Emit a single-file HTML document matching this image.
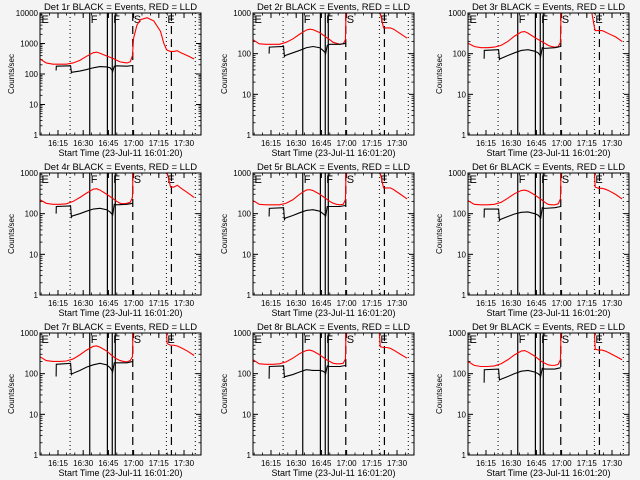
<!DOCTYPE html>
<html><head><meta charset="utf-8">
<style>
html,body{margin:0;padding:0;background:#f4f4f4;}
svg{display:block;}
text{font-family:"Liberation Sans",sans-serif;fill:#000;}
</style></head>
<body>
<svg id="chart" width="640" height="480" viewBox="0 0 640 480" xmlns="http://www.w3.org/2000/svg"></svg>
<script>
// ---- data ----
const panelTitles = ["Det 1r","Det 2r","Det 3r","Det 4r","Det 5r","Det 6r","Det 7r","Det 8r","Det 9r"];
const yMaxDecade = [4,3,3,3,3,3,3,3,3];
const xTickMinutes = [15,30,45,60,75,90];
const xTickLabels = ["16:15","16:30","16:45","17:00","17:15","17:30"];
const dottedLines = [22.2,79.5,96.7];
const solidLines = [33.9,44.4,47.3,49.1];
const dashedLines = [59.5,82.5];
const markerLabels = ["E","F","F","S","E"];
const markerMinutes = [4.6,33.9,47.3,59.5,79.5];
const redTimes = [4.3,8,12,16,20,24,28,32,36,38,40,44,48,50,52,54,56,58,59.3,60,62,64,68,72,76,78,79.5,80,82,84,86,88,92,96];
const red1 = [310,230,210,210,210,230,280,380,500,520,480,390,320,280,250,240,230,250,400,1500,4000,6000,7000,5500,2500,1000,650,600,550,550,580,500,400,310];
const red2 = [220,175,170,170,170,190,230,300,380,400,390,330,250,220,190,180,170,175,220,5000,5000,5000,5000,5000,5000,5000,5000,1000,430,430,430,400,310,240];
const red3 = [180,150,140,140,145,160,200,270,340,350,320,250,200,180,160,150,145,150,190,5000,5000,5000,5000,5000,5000,1000,450,370,370,370,340,310,260,200];
const red4 = [220,180,170,170,175,200,250,320,400,410,380,300,230,200,180,175,180,190,250,5000,5000,5000,5000,5000,5000,5000,5000,1000,450,450,500,430,330,250];
const red5 = [210,170,165,165,165,180,220,300,380,390,370,300,230,200,180,170,165,170,220,5000,5000,5000,5000,5000,5000,5000,5000,1000,430,430,430,390,300,230];
const red6 = [210,170,165,165,170,190,240,310,370,380,360,290,220,190,170,165,165,175,230,5000,5000,5000,5000,5000,5000,5000,1000,450,420,420,400,370,300,230];
const red7 = [260,210,200,200,205,230,290,380,470,480,450,360,260,230,210,200,195,210,260,5000,5000,5000,5000,5000,5000,5000,1000,550,500,500,480,440,360,280];
const red8 = [220,175,170,170,175,195,240,310,370,380,360,290,220,200,180,175,175,180,230,5000,5000,5000,5000,5000,5000,5000,1000,460,440,440,420,380,300,240];
const red9 = [200,160,150,150,155,175,220,290,360,370,340,270,200,180,165,160,160,170,220,5000,5000,5000,5000,5000,5000,5000,1000,400,380,380,360,330,270,220];
const blackTimes = [13.9,14,22.5,23,23.5,28,32,36,40,44,46,47.3,47.5,48.5,50,56,59.5];
const black1 = [130,180,185,110,115,125,140,160,175,170,160,130,120,180,185,180,190];
const black2 = [100,145,150,85,90,105,120,140,150,140,120,105,100,160,170,170,180];
const black3 = [75,120,125,72,75,90,105,120,125,115,105,90,85,140,135,140,150];
const black4 = [100,150,155,82,88,100,115,130,135,125,110,95,90,170,165,170,180];
const black5 = [85,135,140,72,78,90,105,120,125,115,100,90,85,150,150,150,160];
const black6 = [80,130,130,68,72,85,98,108,110,100,92,80,75,140,135,140,150];
const black7 = [85,170,180,95,100,120,145,165,180,165,140,115,110,185,185,185,200];
const black8 = [75,150,155,82,85,95,110,125,120,120,115,105,100,155,150,150,160];
const black9 = [60,125,130,70,72,85,100,115,120,110,100,90,85,135,130,130,140];
const redSeries = [red1,red2,red3,red4,red5,red6,red7,red8,red9];
const blackSeries = [black1,black2,black3,black4,black5,black6,black7,black8,black9];

// ---- drawing ----
const NS="http://www.w3.org/2000/svg";
const svg=document.getElementById('chart');
const colLeft=[40,253,468], rowTop=[13,173,333];
const PW=161, PH=122, T0=4.3, T1=100.1;
function mk(tag,attrs,parent){const e=document.createElementNS(NS,tag);for(const k in attrs)e.setAttribute(k,attrs[k]);(parent||svg).appendChild(e);return e;}

const defs=mk('defs',{});
for(let p=0;p<9;p++){
  const L=colLeft[p%3], T=rowTop[Math.floor(p/3)], R=L+PW, B=T+PH;
  const dmax=yMaxDecade[p];
  const xs=t=>L+(t-T0)/(T1-T0)*PW;
  const ys=v=>B-Math.log10(Math.max(v,1e-3))/dmax*PH;
  const g=mk('g',{});
  
  
  const cp=mk('clipPath',{id:'cp'+p},defs);
  mk('rect',{x:L,y:T,width:PW,height:PH},cp);
  const tt=mk('text',{x:(L+R)/2,y:T-3,'text-anchor':'middle','font-size':'9.5'},g);
  tt.textContent=panelTitles[p]+" BLACK = Events, RED = LLD";
  
  
  for(let d=0;d<=dmax;d++){
    const y=ys(Math.pow(10,d));
    mk('line',{x1:L,x2:L+5,y1:y,y2:y,stroke:'#000','stroke-width':1},g);
    mk('line',{x1:R,x2:R-5,y1:y,y2:y,stroke:'#000','stroke-width':1},g);
    const lt=mk('text',{x:L-2,y:y+3,'text-anchor':'end','font-size':'8'},g);
    lt.textContent=String(Math.pow(10,d));
    
    
    if(d<dmax){for(let m=2;m<=9;m++){const ym=ys(m*Math.pow(10,d));
      mk('line',{x1:L,x2:L+2.5,y1:ym,y2:ym,stroke:'#000','stroke-width':0.8},g);
      mk('line',{x1:R,x2:R-2.5,y1:ym,y2:ym,stroke:'#000','stroke-width':0.8},g);}}
  }
  const yl=mk('text',{x:0,y:0,'text-anchor':'middle','font-size':'8',transform:`translate(${L-26},${(T+B)/2}) rotate(-90)`},g);
  yl.textContent="Counts/sec";
  
  
  xTickMinutes.forEach((m,i)=>{
    const x=xs(m);
    mk('line',{x1:x,x2:x,y1:B,y2:B-5,stroke:'#000'},g);
    mk('line',{x1:x,x2:x,y1:T,y2:T+5,stroke:'#000'},g);
    const xt=mk('text',{x:x,y:B+11,'text-anchor':'middle','font-size':'8'},g);
    xt.textContent=xTickLabels[i];
    
    
  });
  for(let m=5;m<T1;m+=5){const x=xs(m);if(x<L||x>R)continue;
    mk('line',{x1:x,x2:x,y1:B,y2:B-2.5,stroke:'#000','stroke-width':0.8},g);
    mk('line',{x1:x,x2:x,y1:T,y2:T+2.5,stroke:'#000','stroke-width':0.8},g);}
  const xl=mk('text',{x:(L+R)/2,y:B+21,'text-anchor':'middle','font-size':'9'},g);
  xl.textContent="Start Time (23-Jul-11 16:01:20)";
  
  
  dottedLines.forEach(m=>{const x=xs(m);mk('line',{x1:x,x2:x,y1:T,y2:B,stroke:'#000','stroke-dasharray':'1,3'},g);});
  solidLines.forEach(m=>{const x=xs(m);mk('line',{x1:x,x2:x,y1:T,y2:B,stroke:'#000','stroke-width':1.2},g);});
  dashedLines.forEach(m=>{const x=xs(m);mk('line',{x1:x,x2:x,y1:T,y2:B,stroke:'#000','stroke-width':1.2,'stroke-dasharray':'8,5'},g);});
  markerLabels.forEach((s,i)=>{const mt=mk('text',{x:xs(markerMinutes[i])+1,y:T+10,'font-size':'11'},g);mt.textContent=s;
    
    });
  const rp=mk('polyline',{points:redTimes.map((t,i)=>xs(t)+','+ys(redSeries[p][i])).join(' '),fill:'none',stroke:'#ff0000','stroke-width':1.1,'clip-path':`url(#cp${p})`},g);
  
  
  const bp=mk('polyline',{points:blackTimes.map((t,i)=>xs(t)+','+ys(blackSeries[p][i])).join(' '),fill:'none',stroke:'#000','stroke-width':1.1,'clip-path':`url(#cp${p})`},g);
  
  
  const fr=mk('rect',{x:L,y:T,width:PW,height:PH,fill:'none',stroke:'#000','stroke-width':1},g);
  
  
}
</script>
</body></html>
